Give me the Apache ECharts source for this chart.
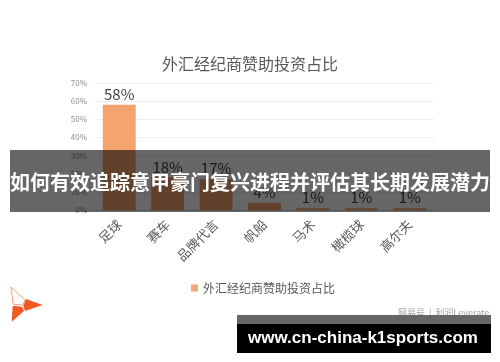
<!DOCTYPE html>
<html><head><meta charset="utf-8">
<script src="https://cdn.jsdelivr.net/npm/echarts@6/dist/echarts.min.js"></script>
<style>html,body{margin:0;padding:0;background:#fff}#c{width:500px;height:362px}</style>
</head><body><div id="c"></div>
<script>
const chartTitle = '外汇经纪商赞助投资占比';
const categories = ['足球', '赛车', '品牌代言', '帆船', '马术', '橄榄球', '高尔夫'];
const values = [58, 18, 17, 4, 1, 1, 1];
const yTicks = [0, 10, 20, 30, 40, 50, 60, 70];
const bannerText = '如何有效追踪意甲豪门复兴进程并评估其长期发展潜力';
const siteText = 'www.cn-china-k1sports.com';
const watermark = '网易号  |  利润Leverate';

const font = '"Noto Sans CJK SC", "Noto Sans", sans-serif';
const chart = echarts.init(document.getElementById('c'), null, {renderer: 'canvas'});
chart.setOption({
  animation: false,
  backgroundColor: '#fff',
  textStyle: {fontFamily: font},
  title: {
    text: chartTitle, left: 'center', top: 51,
    textStyle: {fontSize: 16, fontWeight: 'normal', color: '#595959', fontFamily: font}
  },
  legend: {
    data: [chartTitle], left: 186, top: 277,
    itemWidth: 7, itemHeight: 7, icon: 'rect', itemGap: 5,
    textStyle: {fontSize: 12, color: '#595959', fontFamily: font}
  },
  grid: {left: 95, right: 66, top: 83, bottom: 152},
  xAxis: {
    type: 'category', data: categories,
    axisLine: {lineStyle: {color: '#d9d9d9'}},
    axisTick: {show: false},
    axisLabel: {rotate: 45, fontSize: 13, color: '#595959', margin: 12, interval: 0, fontFamily: font}
  },
  yAxis: {
    type: 'value', min: yTicks[0], max: yTicks[yTicks.length - 1], interval: 10,
    axisLine: {show: false}, axisTick: {show: false},
    axisLabel: {formatter: '{value}%', fontSize: 8, color: '#8c8c8c', margin: 8},
    splitLine: {lineStyle: {color: '#eeeeee'}}
  },
  series: [{
    name: chartTitle, type: 'bar', data: values, barWidth: '68%',
    itemStyle: {color: '#F4A46E'},
    label: {show: true, position: 'top', formatter: '{c}%', fontSize: 15, color: '#404040', distance: 3, fontFamily: font}
  }],
  graphic: [
    {type: 'rect', z: 100, shape: {x: 10, y: 150, width: 480, height: 62}, style: {fill: 'rgba(0,0,0,0.6)'}},
    {type: 'text', z: 101, x: 250, y: 182, style: {text: bannerText, fill: '#fff', font: 'bold 20px "Noto Sans CJK SC", sans-serif', textAlign: 'center', textVerticalAlign: 'middle'}},
    {type: 'polygon', z: 100, shape: {points: [[11,287],[25,300],[22.7,305],[13.3,304.3]]}, style: {fill: 'none', stroke: '#F5A27E', lineWidth: 1}},
    {type: 'polygon', z: 100, shape: {points: [[26,299],[42.7,305],[25,311],[23.3,305.7]]}, style: {fill: '#F05A22'}},
    {type: 'polygon', z: 100, shape: {points: [[12.7,305.7],[22,306.7],[24,311],[11.7,321.7]]}, style: {fill: '#F05A22'}},
    {type: 'text', z: 100, x: 398, y: 313, style: {text: watermark, fill: '#a6a6a6', font: '9px "Noto Sans CJK SC", sans-serif', textVerticalAlign: 'middle'}},
    {type: 'rect', z: 102, shape: {x: 237, y: 315, width: 254, height: 9}, style: {fill: '#666666'}},
    {type: 'rect', z: 102, shape: {x: 237, y: 324, width: 254, height: 29}, style: {fill: '#000000'}},
    {type: 'text', z: 103, x: 363, y: 338, style: {text: siteText, fill: '#fff', font: 'bold 17px "Liberation Sans", sans-serif', textAlign: 'center', textVerticalAlign: 'middle'}}
  ]
});
</script></body></html>
